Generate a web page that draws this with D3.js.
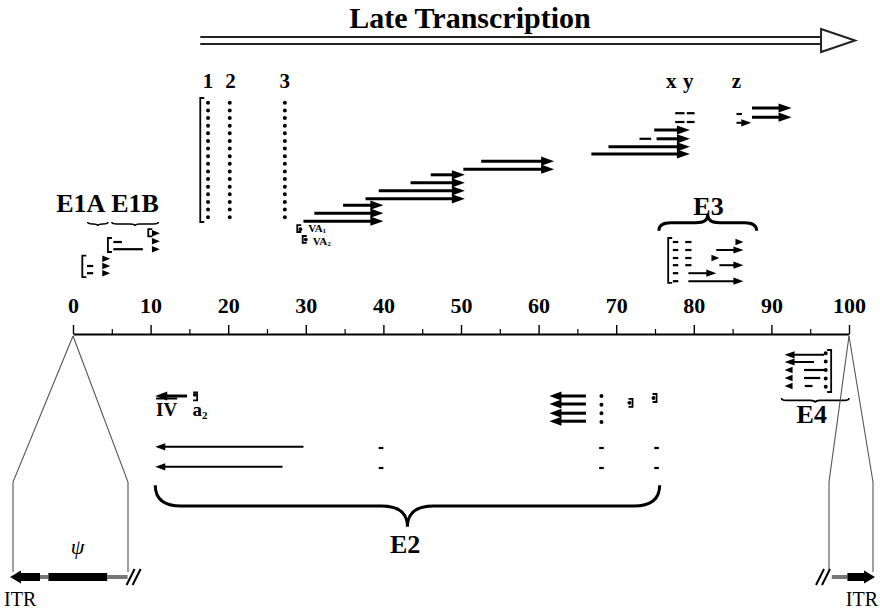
<!DOCTYPE html>
<html>
<head>
<meta charset="utf-8">
<script src="https://d3js.org/d3.v7.min.js"></script>
<style>
  body { margin: 0; background: #fff; }
  svg { font-family: "Liberation Serif", "DejaVu Serif", serif; }
</style>
</head>
<body>
<script>
// ---- map data (map units 0-100, lanes: + above the axis, - below) ----
const mapTicks = d3.range(0, 101, 10);
const minorTicks = d3.range(5, 100, 10);

// late transcripts: [from, to, lane], head at "to"
const lateArrows = [
  [29.7, 40.0, 14.1], [31.1, 40.0, 15.1], [34.8, 40.0, 16.1],
  [37.7, 50.5, 16.9], [39.4, 50.5, 17.9], [43.5, 50.5, 18.9], [46.1, 50.5, 19.9],
  [50.3, 62.0, 20.6], [52.6, 62.0, 21.6],
  [66.8, 79.5, 22.5], [69.0, 79.5, 23.4], [75.2, 79.5, 24.4], [74.9, 79.5, 25.5],
  [87.5, 92.6, 27.1], [87.5, 92.6, 28.25]
];
// thin transcripts with a head at "to"
const earlyArrows = [
  [85.5, 87.4, 26.4],
  [82.9, 86.4, 10.5], [83.3, 86.4, 8.6], [79.3, 82.9, 7.6], [79.3, 86.4, 6.6],
  [96.8, 91.7, -2.6], [95.5, 91.7, -3.5],
  [29.7, 10.6, -14.1], [27.0, 10.6, -16.6]
];
// heavier leftward ones
const heavyArrows = [
  [14.7, 10.6, -7.75],
  [66.1, 61.4, -7.75], [66.1, 61.4, -8.75], [66.1, 61.4, -9.9], [66.1, 61.4, -10.9]
];
// heads with no line: [tip, lane, dir]
const looseHeads = [
  [4.8, 9.4, 1], [4.8, 8.5, 1], [4.8, 7.6, 1],
  [11.2, 12.6, 1], [11.2, 11.6, 1], [11.2, 10.6, 1],
  [86.4, 11.5, 1], [83.3, 9.5, 1],
  [91.7, -4.5, -1], [91.7, -5.5, -1], [91.7, -6.5, -1]
];
// exon dashes: [from, to, lane]
const exonDashes = [
  [73.0, 74.5, 24.4],
  [77.6, 78.8, 27.6], [79.1, 80.1, 27.6], [77.6, 78.8, 26.5], [79.1, 80.1, 26.5],
  [85.5, 86.2, 27.5],
  [1.8, 2.6, 8.5], [1.8, 2.6, 7.6],
  [5.2, 6.3, 11.5], [5.2, 9.0, 10.6],
  [77.3, 78.0, 11.5], [77.3, 78.0, 10.5], [77.3, 78.0, 9.5], [77.3, 78.0, 8.6], [77.3, 78.0, 7.6], [77.3, 78.0, 6.6],
  [78.9, 79.7, 11.5], [78.9, 79.7, 10.5], [78.9, 79.7, 9.5], [78.9, 79.7, 8.6],
  [94.2, 96.8, -4.5], [94.2, 96.3, -5.5], [94.3, 95.3, -6.5],
  [39.4, 40.0, -14.25], [39.4, 40.0, -16.75], [67.8, 68.4, -14.25], [67.8, 68.4, -16.75],
  [74.9, 75.5, -14.25], [74.9, 75.5, -16.75]
];
// promoters: [pos, laneA, laneB, side] side 1 = "[", -1 = "]"
const brackets = [
  [16.4, 29.5, 14.0, 1],
  [1.2, 9.8, 7.1, 1], [4.5, 12.0, 10.25, 1], [9.7, 13.1, 12.2, 1],
  [28.9, 13.6, 12.75, 1], [29.6, 12.25, 11.4, 1],
  [76.7, 12.0, 6.4, 1],
  [97.7, -2.0, -7.25, -1],
  [16.0, -7.3, -8.3, -1], [72.1, -8.1, -9.1, -1], [75.2, -7.5, -8.5, -1]
];
const singleDots = [[29.3, 13.1], [30.0, 11.8], [15.7, -7.6], [71.7, -8.6], [74.8, -8.0]];
// dotted columns: [pos, laneTop, laneBottom, count]
const dotColumns = [
  [17.4, 28.9, 14.6, 16], [20.2, 28.9, 14.6, 16], [27.3, 28.9, 14.6, 16],
  [97.0, -2.4, -6.6, 5], [68.1, -7.75, -11.0, 4]
];
const leaderLabels = [["1", 17.4], ["2", 20.3], ["3", 27.3], ["x", 77.1], ["y", 79.3], ["z", 85.5]];
// braces: [from, to, lane, depth in lanes]
const curlyBraces = [[75.5, 88.1, 12.9, 2.0], [10.6, 75.6, -18.9, -5.2]];
const wavyBraces = [[1.9, 4.5, 14.0, -0.5], [5.0, 11.0, 14.0, -0.5], [91.3, 100, -8.0, -0.6]];
const regionLabels = [["E1A", 1.0, 15.3], ["E1B", 8.0, 15.3], ["E3", 81.9, 14.9], ["E4", 95.2, -11.1], ["E2", 42.8, -27.4]];
const lateSpan = [16.4, 96.4];

// genome ends, in bp
const leftEnd = [[0, 125, "itr"], [125, 160, "gap"], [160, 405, "psi"], [405, 490, "gap"]];
const rightEnd = [[-180, -115, "gap"], [-115, 0, "itr"]];

// ---- drawing ----
const width = 880, height = 613;
const svg = d3.select("body").append("svg").attr("width", width).attr("height", height);

const x = d3.scaleLinear().domain([0, 100]).range([73, 849]);
const y = d3.scaleLinear().domain([0, 10]).range([334, 254]);

function head(tip, lane, dir, len, half) {
  const tx = x(tip), ty = y(lane);
  return `M${tx},${ty}L${tx - dir * len},${ty - half}L${tx - dir * len},${ty + half}Z`;
}

function curly(x1, x2, y0, h, r) {
  const xm = (x1 + x2) / 2, ym = y0 + h / 2;
  return `M${x1},${y0}Q${x1},${ym} ${x1 + r},${ym}L${xm - r},${ym}Q${xm},${ym} ${xm},${y0 + h}` +
         `Q${xm},${ym} ${xm + r},${ym}L${x2 - r},${ym}Q${x2},${ym} ${x2},${y0}`;
}

// axis
const axisG = svg.append("g").attr("transform", `translate(0,${y(0)})`)
  .call(d3.axisTop(x).tickValues(mapTicks).tickSize(9).tickSizeOuter(0).tickPadding(12).tickFormat(d3.format("d")));
axisG.attr("font-family", "Liberation Serif").attr("font-size", 22).attr("font-weight", "bold");
axisG.select(".domain").attr("stroke-width", 2.2);
axisG.selectAll(".tick line").attr("stroke-width", 1.4);
svg.append("g").attr("transform", `translate(0,${y(0)})`)
  .call(d3.axisTop(x).tickValues(minorTicks).tickSize(5).tickFormat(""))
  .call(g => g.select(".domain").remove())
  .selectAll("line").attr("stroke-width", 1.2);

// late transcription arrow
const ta = svg.append("g");
[37, 44].forEach(py => ta.append("line")
  .attr("x1", x(lateSpan[0])).attr("x2", x(lateSpan[1])).attr("y1", py).attr("y2", py)
  .attr("stroke", "#222").attr("stroke-width", 2));
ta.append("path")
  .attr("d", `M${x(lateSpan[1])},29L${x(lateSpan[1]) + 34},40.5L${x(lateSpan[1])},52Z`)
  .attr("fill", "#fff").attr("stroke", "#222").attr("stroke-width", 2);
svg.append("text").attr("x", 470).attr("y", 28).attr("text-anchor", "middle")
  .attr("font-size", 30).attr("font-weight", "bold").text("Late Transcription");

// late arrows
svg.append("g").selectAll("line").data(lateArrows).join("line")
  .attr("x1", d => x(d[0])).attr("x2", d => x(d[1]) - 6)
  .attr("y1", d => y(d[2])).attr("y2", d => y(d[2]))
  .attr("stroke", "#000").attr("stroke-width", 3);
svg.append("g").selectAll("path").data(lateArrows).join("path")
  .attr("d", d => head(d[1], d[2], 1, 13, 4.6));

// early arrows
svg.append("g").selectAll("line").data(earlyArrows).join("line")
  .attr("x1", d => x(d[0])).attr("x2", d => x(d[1]) - Math.sign(d[1] - d[0]) * 5)
  .attr("y1", d => y(d[2])).attr("y2", d => y(d[2]))
  .attr("stroke", "#000").attr("stroke-width", 2);
svg.append("g").selectAll("path").data(earlyArrows).join("path")
  .attr("d", d => head(d[1], d[2], Math.sign(d[1] - d[0]), 10, 3.6));

svg.append("g").selectAll("line").data(heavyArrows).join("line")
  .attr("x1", d => x(d[0])).attr("x2", d => x(d[1]) + 6)
  .attr("y1", d => y(d[2])).attr("y2", d => y(d[2]))
  .attr("stroke", "#000").attr("stroke-width", 3);
svg.append("g").selectAll("path").data(heavyArrows).join("path")
  .attr("d", d => head(d[1], d[2], -1, 12, 4.5));

svg.append("g").selectAll("path").data(looseHeads).join("path")
  .attr("d", d => head(d[0], d[1], d[2], 8, 3.2));

svg.append("g").selectAll("line").data(exonDashes).join("line")
  .attr("x1", d => x(d[0])).attr("x2", d => x(d[1]))
  .attr("y1", d => y(d[2])).attr("y2", d => y(d[2]))
  .attr("stroke", "#000").attr("stroke-width", 2.2);

// promoter brackets
svg.append("g").selectAll("path").data(brackets).join("path")
  .attr("d", d => {
    const px = x(d[0]), s = d[3] * 4;
    return `M${px + s},${y(d[1])}L${px},${y(d[1])}L${px},${y(d[2])}L${px + s},${y(d[2])}`;
  })
  .attr("fill", "none").attr("stroke", "#000").attr("stroke-width", 1.8);

svg.append("g").selectAll("circle").data(singleDots).join("circle")
  .attr("cx", d => x(d[0])).attr("cy", d => y(d[1])).attr("r", 1.9);

svg.append("g").selectAll("line").data(dotColumns).join("line")
  .attr("x1", d => x(d[0])).attr("x2", d => x(d[0]))
  .attr("y1", d => y(d[1])).attr("y2", d => y(d[2]) + 0.01)
  .attr("stroke", "#000").attr("stroke-width", 4).attr("stroke-linecap", "round")
  .attr("stroke-dasharray", d => `0,${(y(d[2]) - y(d[1])) / (d[3] - 1)}`);

// labels over the leaders
svg.append("g").selectAll("text").data(leaderLabels).join("text")
  .attr("x", d => x(d[1])).attr("y", y(30.75)).attr("text-anchor", "middle")
  .attr("font-size", 21).attr("font-weight", "bold").text(d => d[0]);

// VA RNA labels
const va = svg.append("g").attr("font-size", 11).attr("font-weight", "bold");
[[30.3, 12.7, "1"], [30.9, 11.1, "2"]].forEach(([p, l, s]) => {
  const t = va.append("text").attr("x", x(p)).attr("y", y(l)).text("VA");
  t.append("tspan").attr("font-size", 7).attr("dy", 1).text(s);
});

// IVa2 label
const iv = svg.append("g").attr("font-size", 19).attr("font-weight", "bold");
iv.append("text").attr("x", x(10.7)).attr("y", y(-10.2)).attr("text-decoration", "overline").text("IV");
iv.append("text").attr("x", x(15.4)).attr("y", y(-10.2)).text("a")
  .append("tspan").attr("font-size", 11).attr("dy", 3).text("2");

// braces
svg.append("g").selectAll("path").data(curlyBraces).join("path")
  .attr("d", d => curly(x(d[0]), x(d[1]), y(d[2]), y(d[2] + d[3]) - y(d[2]), Math.abs(d[3]) > 3 ? 26 : 12))
  .attr("fill", "none").attr("stroke", "#000").attr("stroke-width", 3);
svg.append("g").selectAll("path").data(wavyBraces).join("path")
  .attr("d", d => curly(x(d[0]), x(d[1]), y(d[2]), y(d[2] + d[3]) - y(d[2]), 5))
  .attr("fill", "none").attr("stroke", "#000").attr("stroke-width", 1.6);

svg.append("g").selectAll("text").data(regionLabels).join("text")
  .attr("x", d => x(d[1])).attr("y", d => y(d[2])).attr("text-anchor", "middle")
  .attr("font-size", 26).attr("font-weight", "bold").text(d => d[0]);

// expansion of the genome ends
const boxTop = 488, boxBottom = 572;
const ends = [[0, 13], [0, 128], [100, 829], [100, 873]];
svg.append("g").selectAll("path").data(ends).join("path")
  .attr("d", d => `M${x(d[0])},${y(0) + 2}L${d[1]},${boxTop - 6}Q${d[1]},${boxTop} ${d[1]},${boxTop + 6}L${d[1]},${boxBottom}`)
  .attr("fill", "none").attr("stroke", "#555").attr("stroke-width", 1.1);

const barY = 577;
const lx = d3.scaleLinear().domain([0, 500]).range([10, 130]);
const rx = d3.scaleLinear().domain([-250, 0]).range([815, 875]);
const kind = { itr: ["#000", 8], psi: ["#000", 8], gap: ["#777", 4] };

svg.append("g").selectAll("rect").data(leftEnd).join("rect")
  .attr("x", d => lx(d[0]) + (d[0] === 0 ? 8 : 0)).attr("width", d => lx(d[1]) - lx(d[0]) - (d[0] === 0 ? 8 : 0))
  .attr("y", d => barY - kind[d[2]][1] / 2).attr("height", d => kind[d[2]][1])
  .attr("fill", d => kind[d[2]][0]);
svg.append("path").attr("d", `M${lx(0)},${barY}L${lx(0) + 11},${barY - 6.5}L${lx(0) + 11},${barY + 6.5}Z`);

svg.append("g").selectAll("rect").data(rightEnd).join("rect")
  .attr("x", d => rx(d[0])).attr("width", d => rx(d[1]) - rx(d[0]) - (d[1] === 0 ? 9 : 0))
  .attr("y", d => barY - kind[d[2]][1] / 2).attr("height", d => kind[d[2]][1])
  .attr("fill", d => kind[d[2]][0]);
svg.append("path").attr("d", `M${rx(0)},${barY}L${rx(0) - 11},${barY - 6.5}L${rx(0) - 11},${barY + 6.5}Z`);

// break marks
[lx(490) + 3, lx(490) + 9, rx(-250) + 5, rx(-250) + 11].forEach(bx =>
  svg.append("line").attr("x1", bx - 4).attr("x2", bx + 4).attr("y1", barY + 8).attr("y2", barY - 8)
    .attr("stroke", "#000").attr("stroke-width", 2));

svg.append("text").attr("x", lx(282)).attr("y", 554).attr("text-anchor", "middle")
  .attr("font-size", 22).attr("font-style", "italic").text("ψ");
svg.append("text").attr("x", 4).attr("y", 606).attr("font-size", 20).text("ITR");
svg.append("text").attr("x", 878).attr("y", 606).attr("text-anchor", "end").attr("font-size", 20).text("ITR");
</script>
</body>
</html>
